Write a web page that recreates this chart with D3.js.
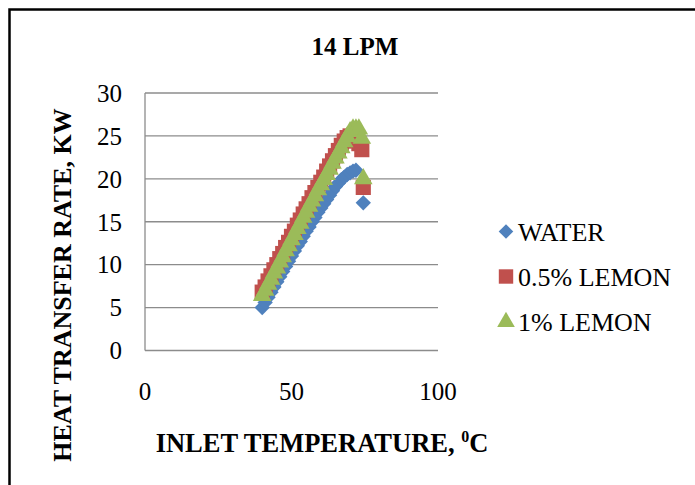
<!DOCTYPE html>
<html><head><meta charset="utf-8">
<script src="https://cdn.jsdelivr.net/npm/d3@7"></script>
<style>body{margin:0;background:#fff}svg{display:block}svg text{font-family:"Liberation Serif","Times New Roman",Times,serif}</style>
</head><body>
<svg id="c" width="695" height="485"></svg>
<script>
const titleText = "14 LPM";
const xTitle = "INLET TEMPERATURE, ";
const yTitle = "HEAT TRANSFER RATE, KW";
const xTicks = [0, 50, 100];
const yTicks = [0, 5, 10, 15, 20, 25, 30];
const seriesNames = ["WATER", "0.5% LEMON", "1% LEMON"];
const seriesColors = ["#4F81BD", "#C0504D", "#9BBB59"];

const waterX = [40,41,42,43,44,45,46,47,48,49,50,51,52,53,54,55,56,57,58,59,60,61,62,63,64,65,66,67,68,69,70,71,72,74.5];
const waterY = [5.0,5.6,6.2,6.8,7.4,8.0,8.6,9.2,9.8,10.4,11.0,11.6,12.2,12.7,13.3,13.9,14.4,15.0,15.5,16.1,16.6,17.1,17.6,18.1,18.6,19.1,19.5,19.9,20.2,20.5,20.7,20.9,21.0,17.2];
const lemon05X = [40,41,42,43,44,45,46,47,48,49,50,51,52,53,54,55,56,57,58,59,60,61,62,63,64,65,66,67,68,69,70,71,72,73,74,74.5];
const lemon05Y = [6.8,7.4,8.1,8.7,9.4,10.0,10.7,11.3,12.0,12.6,13.3,13.9,14.6,15.2,15.9,16.5,17.1,17.8,18.4,19.0,19.6,20.2,20.9,21.5,22.1,22.7,23.3,23.9,24.4,24.8,25.0,24.9,24.6,24.1,23.4,19.0];
const lemon1X = [40,41,42,43,44,45,46,47,48,49,50,51,52,53,54,55,56,57,58,59,60,61,62,63,64,65,66,67,68,69,70,71,72,73,74,74.5];
const lemon1Y = [6.4,7.0,7.7,8.3,9.0,9.6,10.3,10.9,11.6,12.2,12.9,13.5,14.2,14.8,15.5,16.1,16.8,17.4,18.0,18.7,19.3,19.9,20.5,21.1,21.8,22.4,23.0,23.6,24.3,24.9,25.5,25.8,25.8,25.8,24.7,20.0];

const svg = d3.select("#c");

// outer border
svg.append("rect").attr("x", 9.5).attr("y", 9.5).attr("width", 700).attr("height", 500)
  .attr("fill", "none").attr("stroke", "#000").attr("stroke-width", 2.5);

const x = d3.scaleLinear().domain([0, 100]).range([145, 438]);
const y = d3.scaleLinear().domain([0, 30]).range([350.5, 93]);

// gridlines
svg.append("g").selectAll("line").data(yTicks).join("line")
  .attr("x1", x(0)).attr("x2", x(100))
  .attr("y1", d => y(d)).attr("y2", d => y(d))
  .attr("stroke", "#8c8c8c").attr("stroke-width", 1.3);
// y axis line
svg.append("line").attr("x1", x(0)).attr("x2", x(0)).attr("y1", y(0)).attr("y2", y(30))
  .attr("stroke", "#8c8c8c").attr("stroke-width", 1.3);

// tick labels
svg.append("g").selectAll("text").data(yTicks).join("text")
  .attr("x", 122).attr("y", d => y(d)).attr("dy", "0.35em")
  .attr("text-anchor", "end").attr("font-size", 25)
  .text(d => d);
svg.append("g").selectAll("text").data(xTicks).join("text")
  .attr("x", d => x(d)).attr("y", 400)
  .attr("text-anchor", "middle").attr("font-size", 25)
  .text(d => d);

// titles
svg.append("text").attr("x", 355).attr("y", 55).attr("text-anchor", "middle")
  .attr("font-weight", "bold").attr("font-size", 25).text(titleText);
const xt = svg.append("text").attr("x", 322).attr("y", 452).attr("text-anchor", "middle")
  .attr("font-weight", "bold").attr("font-size", 26.5);
xt.append("tspan").text(xTitle);
xt.append("tspan").attr("font-size", 16).attr("dy", -10).text("0");
xt.append("tspan").attr("dy", 10).text("C");
svg.append("text").attr("transform", "translate(71,285) rotate(-90)").attr("text-anchor", "middle")
  .attr("font-weight", "bold").attr("font-size", 26).text(yTitle);

// markers
const diamond = d3.symbol().type(d3.symbolDiamond2).size(150)();
const square = d3.symbol().type(d3.symbolSquare).size(230)();
const tri = d3.symbol().type(d3.symbolTriangle).size(150)();
const shapes = [diamond, square, tri];

const series = [
  {xs: waterX, ys: waterY},
  {xs: lemon05X, ys: lemon05Y},
  {xs: lemon1X, ys: lemon1Y}
];
series.forEach((s, i) => {
  const pts = s.xs.map((v, j) => [v, s.ys[j]]);
  svg.append("g").selectAll("path").data(pts).join("path")
    .attr("d", shapes[i])
    .attr("transform", d => `translate(${x(d[0])},${y(d[1])})`)
    .attr("fill", seriesColors[i]);
});

// legend
const legY = [231.5, 276.5, 322];
const lg = svg.append("g");
seriesNames.forEach((n, i) => {
  lg.append("path").attr("d", shapes[i]).attr("fill", seriesColors[i])
    .attr("transform", `translate(506,${legY[i]}) scale(0.95)`);
  lg.append("text").attr("x", 518).attr("y", legY[i] + 9)
    .attr("font-size", 26).text(n);
});
</script>
</body></html>
